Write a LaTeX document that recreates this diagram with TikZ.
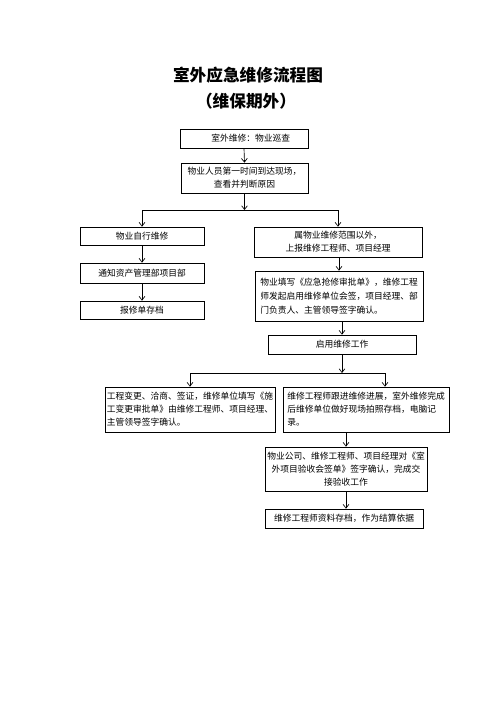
\documentclass[tikz,border=0pt]{standalone}
\usepackage{fontspec}
\newfontfamily\cjk{Noto Sans CJK SC}
\usetikzlibrary{arrows.meta}
\begin{document}
\begin{tikzpicture}[x=1.2pt,y=-1.2pt,
  bx/.style 2 args={draw, line width=0.8pt, minimum width=#1*1.2pt, minimum height=#2*1.2pt,
    inner sep=0pt, align=center, font=\cjk\fontsize{10.5pt}{16pt}\selectfont},
  arr/.style={line width=0.8pt, -{Straight Barb[length=4.5pt,width=7pt,line width=0.8pt]}},
  ln/.style={line width=0.8pt},
  ttl/.style={font=\cjk\bfseries\fontsize{20pt}{24pt}\selectfont}]
\useasboundingbox[fill=white] (0,0) rectangle (496,702);
\node[ttl] (title) at (248,75) {室外应急维修流程图};
\node[ttl] (sub) at (246,101) {（维保期外）};

\node[bx={128}{19}] (b1) at (244,138.5) {\hspace*{16pt}室外维修：物业巡查};
\node[bx={127}{30}] (b2) at (244.5,178) {物业人员第一时间到达现场，\\查看并判断原因};

\node[bx={124}{18}] (L1) at (142,236) {物业自行维修};
\node[bx={124}{20}] (L2) at (142,273) {通知资产管理部项目部};
\node[bx={124}{18}] (L3) at (142,310) {报修单存档};

\node[bx={168}{30}] (R1) at (338,242) {属物业维修范围以外，\\上报维修工程师、项目经理};
\node[bx={168}{50}, align=left, font=\cjk\fontsize{10.5pt}{17pt}\selectfont] (R2) at (339,296)
  {物业填写《应急抢修审批单》，维修工程\\师发起启用维修单位会签，项目经理、部\\门负责人、主管领导签字确认。};
\node[bx={148}{19}] (R3) at (342,344.5) {启用维修工作};

\node[bx={170}{45}, align=left, font=\cjk\fontsize{10.5pt}{15.6pt}\selectfont] (M1) at (190,409.5)
  {工程变更、洽商、签证，维修单位填写《施\\工变更审批单》由维修工程师、项目经理、\\主管领导签字确认。};
\node[bx={166}{45}, align=left, font=\cjk\fontsize{10.5pt}{15.6pt}\selectfont] (M2) at (366,409.5)
  {维修工程师跟进维修进展，室外维修完成\\后维修单位做好现场拍照存档，电脑记\\录。};
\node[bx={162}{44}, font=\cjk\fontsize{10.5pt}{15.6pt}\selectfont] (N1) at (346,469)
  {物业公司、维修工程师、项目经理对《室\\外项目验收会签单》签字确认，完成交\\接验收工作};
\node[bx={158}{19}] (N2) at (344,518.5) {维修工程师资料存档，作为结算依据};

% connectors
\coordinate (h1) at (0,210);
\coordinate (h2) at (0,373);
\coordinate (m2a) at (385,373);
\draw[arr] (b1.south) -- (b2.north);
\draw[arr] (b2.south) -- (b2.south |- h1);
\draw[ln] (L1.north |- h1) -- (R1.north |- h1);
\draw[arr] (L1.north |- h1) -- (L1.north);
\draw[arr] (R1.north |- h1) -- (R1.north);
\draw[arr] (L1.south) -- (L2.north);
\draw[arr] (L2.south) -- (L3.north);
\draw[arr] (R1.south) -- (R2.south |- R1.south) -- (R2.north);
\draw[arr] (R3.north |- R2.south) -- (R3.north);
\draw[arr] (R3.south) -- (R3.south |- h2);
\draw[ln] (M1.north |- h2) -- (m2a);
\draw[arr] (M1.north |- h2) -- (M1.north);
\draw[arr] (m2a) -- (m2a |- M2.north);
\draw[arr] (N1.north |- M2.south) -- (N1.north);
\draw[arr] (N1.south) -- (N1.south |- N2.north);
\end{tikzpicture}
\end{document}
